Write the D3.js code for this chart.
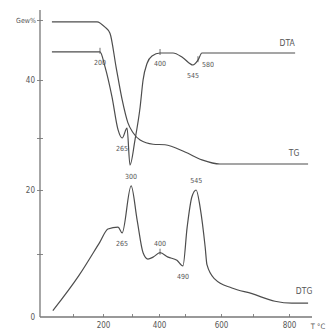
<!DOCTYPE html>
<html>
<head>
<meta charset="utf-8">
<script src="https://cdn.jsdelivr.net/npm/d3@7"></script>
<style>
  html, body { margin: 0; padding: 0; background: #fff; }
  svg { display: block; }
  text { font-family: "DejaVu Sans Condensed", "DejaVu Sans", sans-serif; fill: #555; }
  .txt { opacity: 0.99; }
</style>
</head>
<body>
<svg id="chart" width="330" height="336"></svg>
<script>
// temperature in °C, value in axis units (Gew%)
const dtaT = [32, 190, 207, 231, 252, 266, 283, 293, 311, 330, 341, 356, 374, 404, 454, 492, 522, 536, 547, 817];
const dtaV = [44.7, 44.7, 42.2, 37.1, 31.4, 30.0, 31.7, 24.8, 29.6, 35.3, 40.0, 42.8, 44.0, 44.5, 44.5, 43.7, 42.5, 43.3, 44.5, 44.5];

const tgT = [32, 180, 207, 224, 245, 266, 286, 304, 330, 378, 423, 500, 547, 597, 659, 853];
const tgV = [49.7, 49.7, 48.8, 47.8, 42.2, 36.6, 32.6, 30.9, 29.6, 28.8, 28.7, 27.3, 25.8, 25.0, 25.0, 25.0];

const dtgT = [35, 120, 190, 217, 252, 266, 297, 319, 341, 359, 378, 404, 435, 469, 492, 506, 519, 531, 542, 556, 561, 583, 634, 697, 761, 808, 853];
const dtgV = [1.0, 6.6, 11.9, 13.9, 14.2, 13.3, 20.8, 15.3, 10.2, 9.2, 9.5, 10.2, 9.5, 9.0, 8.1, 14.2, 18.9, 20.0, 17.3, 11.1, 8.3, 6.0, 4.6, 3.7, 2.5, 2.2, 2.2];

// peak annotations
const dtaNotes = [
  { t: 190, v: 44.7, text: "200", side: "below", tick: true },
  { t: 266, v: 30.0, text: "265", side: "below" },
  { t: 404, v: 44.5, text: "400", side: "below", tick: true },
  { t: 522, v: 42.5, text: "545", side: "below" },
  { t: 536, v: 43.3, text: "580", side: "right", tick: true }
];
const dtgNotes = [
  { t: 266, v: 13.3, text: "265", side: "below" },
  { t: 297, v: 20.8, text: "300", side: "above" },
  { t: 404, v: 10.2, text: "400", side: "above", tick: true },
  { t: 492, v: 8.1, text: "490", side: "below" },
  { t: 531, v: 20.0, text: "545", side: "above" }
];

const xTicks = [100, 200, 300, 400, 500, 600, 700, 800];
const xLabels = [200, 400, 600, 800];
const yTicks = [0, 10, 20, 30, 40, 50];
const yLabels = { 0: "0", 20: "20", 40: "40", 50: "Gew%" };

const svg = d3.select("#chart");
const ink = "#4d4d4d";

// the scanned plot is not evenly spaced, so piecewise scales
const x = d3.scaleLinear()
  .domain([0, 100, 200, 300, 400, 500, 600, 700, 800])
  .range([42, 73, 103, 132, 159, 185, 221, 253, 289]);
const y = d3.scaleLinear()
  .domain([0, 10, 20, 30, 40, 50])
  .range([317, 254, 190, 138, 80, 20]);

// axes
const xAxis = svg.append("g").attr("transform", `translate(0,${y(0)})`)
  .call(d3.axisBottom(x).tickValues(xTicks).tickSize(-3)
    .tickFormat(d => xLabels.includes(d) ? d : ""));
xAxis.select(".domain").remove();
xAxis.append("line").attr("x1", 40).attr("x2", 312).attr("stroke", "#777").attr("stroke-width", 1.3);
xAxis.selectAll(".tick line").attr("stroke", "#888");
xAxis.selectAll(".tick text").attr("class", "txt").attr("dy", "0.75em").attr("y", 5).attr("font-size", 8);
xAxis.append("text").attr("class", "txt").attr("x", 318).attr("y", 12).attr("text-anchor", "middle")
  .attr("font-size", 7.5).text("T °C");

const yAxis = svg.append("g").attr("transform", `translate(40,0)`)
  .call(d3.axisLeft(y).tickValues(yTicks).tickSize(3)
    .tickFormat(d => yLabels[d] || ""));
yAxis.select(".domain").remove();
yAxis.append("line").attr("y1", 10).attr("y2", y(0)).attr("stroke", "#777").attr("stroke-width", 1.3);
yAxis.selectAll(".tick line").attr("x1", -3).attr("x2", 3).attr("stroke", "#888");
yAxis.selectAll(".tick").filter(d => d === 0).select("line").remove();
yAxis.selectAll(".tick text").attr("class", "txt").attr("x", -5).attr("font-size", 8);
yAxis.selectAll(".tick").filter(d => d === 50).select("text").attr("font-size", 7).attr("x", -4);

// curves
const line = d3.line()
  .x(d => x(d[0]))
  .y(d => y(d[1]))
  .curve(d3.curveMonotoneX);

const curves = [
  { name: "DTA", pts: d3.zip(dtaT, dtaV) },
  { name: "TG", pts: d3.zip(tgT, tgV) },
  { name: "DTG", pts: d3.zip(dtgT, dtgV) }
];

svg.append("g").selectAll("path")
  .data(curves)
  .join("path")
  .attr("d", d => line(d.pts))
  .attr("fill", "none")
  .attr("stroke", ink)
  .attr("stroke-width", 1.2);

// curve names at the right end
const nameSpot = { DTA: [-8, -7], TG: [-14, -8], DTG: [-4, -9] };
svg.append("g").attr("class", "txt").selectAll("text")
  .data(curves)
  .join("text")
  .attr("x", d => x(d.pts[d.pts.length - 1][0]) + nameSpot[d.name][0])
  .attr("y", d => y(d.pts[d.pts.length - 1][1]) + nameSpot[d.name][1])
  .attr("text-anchor", "middle")
  .attr("font-size", 8.5)
  .text(d => d.name);

// peak temperatures
const offs = { below: [0, 11], above: [0, -9], right: [10, 5] };
const notes = dtaNotes.concat(dtgNotes);
const ng = svg.append("g");
ng.append("g").attr("class", "txt").selectAll("text")
  .data(notes)
  .join("text")
  .attr("x", d => x(d.t) + offs[d.side][0])
  .attr("y", d => y(d.v) + offs[d.side][1])
  .attr("text-anchor", "middle")
  .attr("dominant-baseline", "middle")
  .attr("font-size", 7)
  .text(d => d.text);
ng.selectAll("line")
  .data(notes.filter(d => d.tick))
  .join("line")
  .attr("x1", d => x(d.t)).attr("x2", d => x(d.t))
  .attr("y1", d => y(d.v) - 4).attr("y2", d => y(d.v) + 2)
  .attr("stroke", ink).attr("stroke-width", 0.8);
</script>
</body>
</html>
